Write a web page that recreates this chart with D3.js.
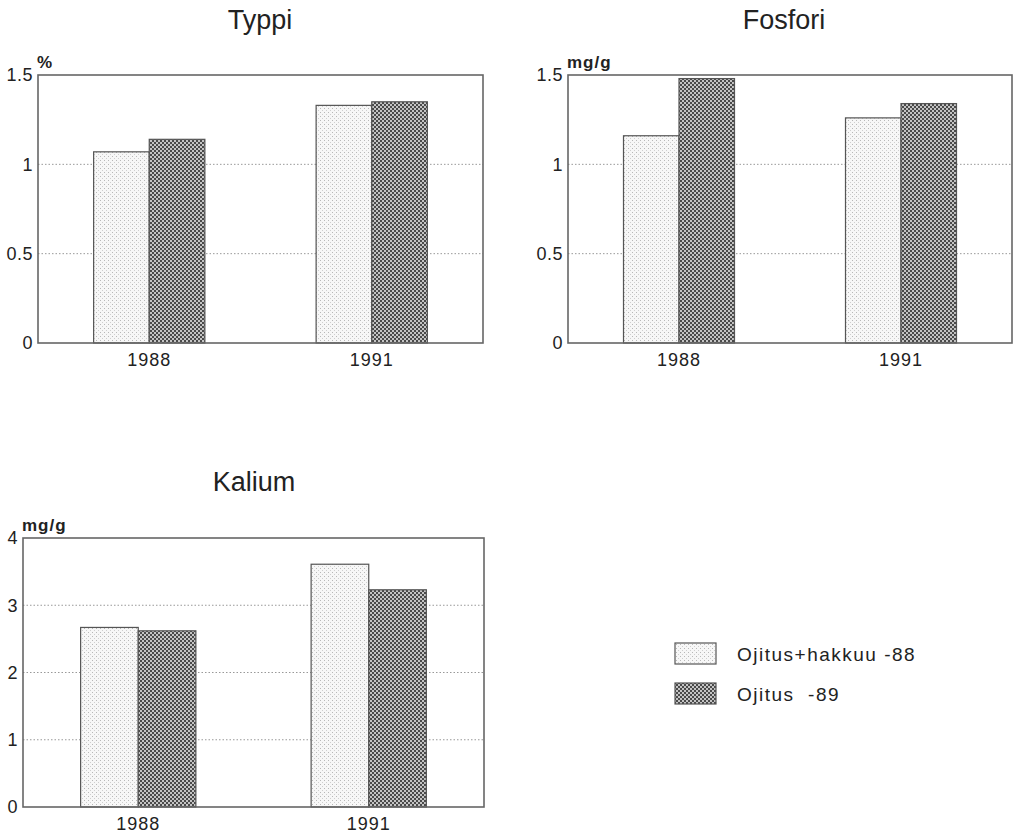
<!DOCTYPE html>
<html>
<head>
<meta charset="utf-8">
<script src="https://cdn.jsdelivr.net/npm/d3@7"></script>
<style>
  body { margin: 0; background: #fff; }
  svg { display: block; }
  text { font-family: "Liberation Sans", Arial, sans-serif; fill: #222; }
</style>
</head>
<body>
<svg id="chart" width="1019" height="836"></svg>
<script>
// ---- data ----
const categories = ["1988", "1991"];
const seriesNames = ["Ojitus+hakkuu -88", "Ojitus  -89"];

const typpiHakkuu = [1.07, 1.33];
const typpiOjitus = [1.14, 1.35];
const fosforiHakkuu = [1.16, 1.26];
const fosforiOjitus = [1.48, 1.34];
const kaliumHakkuu = [2.67, 3.61];
const kaliumOjitus = [2.62, 3.23];

const ticksSmall = [0, 0.5, 1, 1.5];
const tickLabelsSmall = ["0", "0.5", "1", "1.5"];
const ticksKalium = [0, 1, 2, 3, 4];
const tickLabelsKalium = ["0", "1", "2", "3", "4"];

// ---- layout ----
const panels = [
  { title: "Typpi", unit: "%", a: typpiHakkuu, b: typpiOjitus, max: 1.5, ticks: ticksSmall, labels: tickLabelsSmall,
    x0: 38, x1: 483, y0: 75, y1: 343, titleX: 260, titleY: 29 },
  { title: "Fosfori", unit: "mg/g", a: fosforiHakkuu, b: fosforiOjitus, max: 1.5, ticks: ticksSmall, labels: tickLabelsSmall,
    x0: 568, x1: 1012, y0: 75, y1: 343, titleX: 784, titleY: 29 },
  { title: "Kalium", unit: "mg/g", a: kaliumHakkuu, b: kaliumOjitus, max: 4, ticks: ticksKalium, labels: tickLabelsKalium,
    x0: 23, x1: 484, y0: 538, y1: 807, titleX: 254, titleY: 491 }
];

const svg = d3.select("#chart");
const defs = svg.append("defs");

// light stipple pattern
const pl = defs.append("pattern").attr("id", "light").attr("patternUnits", "userSpaceOnUse")
  .attr("width", 4).attr("height", 4);
pl.append("rect").attr("width", 4).attr("height", 4).attr("fill", "#f7f7f7");
pl.append("rect").attr("x", 0).attr("y", 0).attr("width", 1).attr("height", 1).attr("fill", "#b8b8b8");
pl.append("rect").attr("x", 2).attr("y", 2).attr("width", 1).attr("height", 1).attr("fill", "#cfcfcf");

// dark checker pattern
const pd = defs.append("pattern").attr("id", "dark").attr("patternUnits", "userSpaceOnUse")
  .attr("width", 4).attr("height", 4);
pd.append("rect").attr("width", 4).attr("height", 4).attr("fill", "#c4c4c4");
pd.append("rect").attr("x", 0).attr("y", 0).attr("width", 2).attr("height", 2).attr("fill", "#4a4a4a");
pd.append("rect").attr("x", 2).attr("y", 2).attr("width", 2).attr("height", 2).attr("fill", "#4a4a4a");

const fills = ["url(#light)", "url(#dark)"];

panels.forEach(p => {
  const g = svg.append("g");
  const x = d3.scaleBand().domain(categories).range([p.x0, p.x1]).paddingInner(0.5).paddingOuter(0.25);
  const xs = d3.scaleBand().domain([0, 1]).range([0, x.bandwidth()]);
  const y = d3.scaleLinear().domain([0, p.max]).range([p.y1, p.y0]);

  // gridlines
  g.selectAll("line.grid").data(p.ticks.filter(t => t > 0 && t < p.max)).join("line")
    .attr("x1", p.x0).attr("x2", p.x1)
    .attr("y1", d => y(d)).attr("y2", d => y(d))
    .attr("stroke", "#999").attr("stroke-width", 1).attr("stroke-dasharray", "1.5,2");

  // bars
  const rows = [];
  categories.forEach((c, i) => {
    rows.push({ cat: c, s: 0, v: p.a[i] });
    rows.push({ cat: c, s: 1, v: p.b[i] });
  });
  g.selectAll("rect.bar").data(rows).join("rect")
    .attr("x", d => x(d.cat) + xs(d.s))
    .attr("width", xs.bandwidth())
    .attr("y", d => y(d.v))
    .attr("height", d => y(0) - y(d.v))
    .attr("fill", d => fills[d.s])
    .attr("stroke", "#555").attr("stroke-width", 1.2);

  // frame
  g.append("rect").attr("x", p.x0).attr("y", p.y0).attr("width", p.x1 - p.x0).attr("height", p.y1 - p.y0)
    .attr("fill", "none").attr("stroke", "#666").attr("stroke-width", 1.6);

  // y axis labels
  const yAxis = d3.axisLeft(y).tickValues(p.ticks).tickFormat((d, i) => p.labels[i]).tickSize(0).tickPadding(5);
  const ya = g.append("g").attr("transform", `translate(${p.x0},0)`).call(yAxis);
  ya.select(".domain").remove();
  ya.selectAll("text").attr("font-size", 18).attr("fill", "#222").attr("letter-spacing", 0.5)
    .style("font-family", "'Liberation Sans', Arial, sans-serif");

  // x axis labels
  const xAxis = d3.axisBottom(x).tickSize(0).tickPadding(10);
  const xa = g.append("g").attr("transform", `translate(0,${p.y1})`).call(xAxis);
  xa.select(".domain").remove();
  xa.selectAll("text").attr("font-size", 18).attr("fill", "#222").attr("letter-spacing", 1)
    .style("font-family", "'Liberation Sans', Arial, sans-serif");

  // unit
  g.append("text").attr("x", p.x0 - 1).attr("y", p.y0 - 7).attr("font-size", 17).attr("font-weight", "bold")
    .attr("letter-spacing", 1).attr("fill", "#333").text(p.unit);

  // title
  g.append("text").attr("x", p.titleX).attr("y", p.titleY).attr("text-anchor", "middle")
    .attr("font-size", 27).text(p.title);
});

// legend
const legend = svg.append("g");
seriesNames.forEach((name, i) => {
  const yy = 643 + i * 40;
  legend.append("rect").attr("x", 675).attr("y", yy).attr("width", 41).attr("height", 21)
    .attr("fill", fills[i]).attr("stroke", "#555").attr("stroke-width", 1.2);
  legend.append("text").attr("x", 737).attr("y", yy + 11).attr("dy", "0.36em")
    .attr("font-size", 19).attr("letter-spacing", 1.5).attr("xml:space", "preserve")
    .style("white-space", "pre").text(name);
});
</script>
</body>
</html>
